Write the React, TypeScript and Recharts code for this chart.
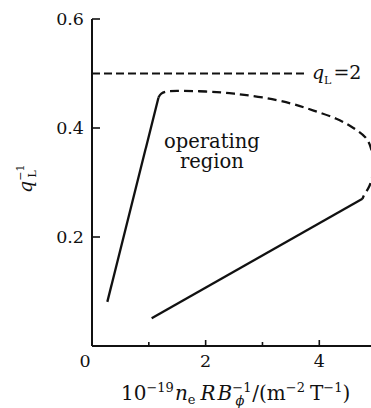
import { LineChart, Line, XAxis, YAxis, ReferenceDot, LabelList } from "recharts"

// q_L = 2 limit
const limitX = [0, 3.8]
const limitY = [0.5, 0.5]

// density-limit edge (left, solid)
const leftX = [0.27, 1.17]
const leftY = [0.081, 0.456]

// upper boundary (dashed)
const upperX = [1.17, 1.22, 1.32, 1.5, 2.0, 2.5, 3.0, 3.5, 3.9, 4.3, 4.6, 4.8, 4.9, 4.95, 4.94, 4.88, 4.8, 4.76]
const upperY = [0.456, 0.463, 0.467, 0.468, 0.467, 0.463, 0.456, 0.445, 0.432, 0.417, 0.4, 0.384, 0.366, 0.34, 0.315, 0.293, 0.279, 0.27]

// lower boundary (solid)
const lowerX = [1.05, 4.76]
const lowerY = [0.051, 0.27]

const xTicks = [0, 1, 2, 3, 4]
const yTicks = [0.2, 0.4, 0.6]

const zip = (xs: number[], ys: number[]) => xs.map((x, i) => ({ x, y: ys[i] }))

const FONT = "DejaVu Serif"
const INK = "#111"

const XTick = ({ x, y, payload }: any) => {
  const major = payload.value % 2 === 0
  return (
    <g>
      {payload.value !== 0 && (
        <line x1={x} x2={x} y1={y} y2={y - (major ? 6 : 4)} stroke={INK} strokeWidth={1.6} />
      )}
      {major && (
        <text x={payload.value === 0 ? x - 7 : x} y={y + 21} textAnchor="middle" fontSize={17.5} fontFamily={FONT} fill={INK}>
          {payload.value}
        </text>
      )}
    </g>
  )
}

const YTick = ({ x, y, payload }: any) => (
  <g>
    <line x1={x} x2={x + 8} y1={y} y2={y} stroke={INK} strokeWidth={1.6} />
    <text x={x - 8} y={y + 6} textAnchor="end" fontSize={17.5} fontFamily={FONT} fill={INK}>
      {payload.value.toFixed(1)}
    </text>
  </g>
)

const LimitLabel = (props: any) => {
  const { x, y, index } = props
  if (index !== limitX.length - 1) return null
  return (
    <text x={x + 4} y={y + 5} fontSize={19} fontFamily={FONT} fill={INK}>
      <tspan fontStyle="italic">q</tspan>
      <tspan fontSize={11} dy={5}>L</tspan>
      <tspan dy={-5} dx={2}>=2</tspan>
    </text>
  )
}

const RegionText = ({ cx, cy }: any) => (
  <text x={cx} y={cy} textAnchor="middle" fontSize={19.5} fontFamily={FONT} fill={INK}>
    <tspan x={cx}>operating</tspan>
    <tspan x={cx} dy={20}>region</tspan>
  </text>
)

export default function App() {
  return (
    <div style={{ position: "absolute", left: 0, top: 0, background: "#fff" }}>
      <LineChart width={371} height={408} margin={{ top: 19, right: 0, bottom: 0, left: 0 }}>
        <XAxis
          type="number"
          dataKey="x"
          domain={[0, 4.91]}
          allowDataOverflow
          ticks={xTicks}
          tick={<XTick />}
          tickSize={0}
          tickMargin={0}
          tickLine={false}
          height={62}
          axisLine={{ stroke: INK, strokeWidth: 2 }}
        />
        <YAxis
          type="number"
          dataKey="y"
          domain={[0, 0.6]}
          ticks={yTicks}
          tick={<YTick />}
          tickSize={0}
          tickMargin={0}
          tickLine={false}
          width={92}
          axisLine={{ stroke: INK, strokeWidth: 2 }}
        />
        <Line
          data={zip(limitX, limitY)}
          dataKey="y"
          type="linear"
          stroke={INK}
          strokeWidth={1.8}
          strokeDasharray="8 4"
          dot={false}
          isAnimationActive={false}
        >
          <LabelList dataKey="y" content={<LimitLabel />} />
        </Line>
        <Line
          data={zip(leftX, leftY)}
          dataKey="y"
          type="linear"
          stroke={INK}
          strokeWidth={2.3}
          dot={false}
          isAnimationActive={false}
        />
        <Line
          data={zip(upperX, upperY)}
          dataKey="y"
          type="natural"
          stroke={INK}
          strokeWidth={2.3}
          strokeDasharray="9 5"
          dot={false}
          isAnimationActive={false}
        />
        <Line
          data={zip(lowerX, lowerY)}
          dataKey="y"
          type="linear"
          stroke={INK}
          strokeWidth={2.3}
          dot={false}
          isAnimationActive={false}
        />
        <ReferenceDot x={2.11} y={0.363} r={0} shape={<RegionText />} />
      </LineChart>
      <svg width={371} height={408} style={{ position: "absolute", left: 0, top: 0, pointerEvents: "none" }}>
        <text transform="translate(32,193) rotate(-90)" fontSize={19} fontFamily={FONT} fill={INK}>
          <tspan fontStyle="italic">q</tspan>
          <tspan fontSize={11} dy={-8}>−1</tspan>
          <tspan fontSize={11} dx={-13} dy={12}>L</tspan>
        </text>
        <text x={121} y={400} fontSize={20} fontFamily={FONT} fill={INK}>
          <tspan>10</tspan>
          <tspan fontSize={13} dy={-8}>−19</tspan>
          <tspan fontStyle="italic" dy={8} dx={1}>n</tspan>
          <tspan fontSize={13} dy={4}>e</tspan>
          <tspan fontStyle="italic" dy={-4} dx={5}>R</tspan>
          <tspan fontStyle="italic" dx={2}>B</tspan>
          <tspan fontSize={13} dy={-8}>−1</tspan>
          <tspan fontSize={13} fontStyle="italic" dx={-16} dy={13}>ϕ</tspan>
          <tspan dx={8} dy={-5}>/(m</tspan>
          <tspan fontSize={13} dy={-8}>−2</tspan>
          <tspan dy={8} dx={5}>T</tspan>
          <tspan fontSize={13} dy={-8}>−1</tspan>
          <tspan dy={8}>)</tspan>
        </text>
      </svg>
    </div>
  )
}
